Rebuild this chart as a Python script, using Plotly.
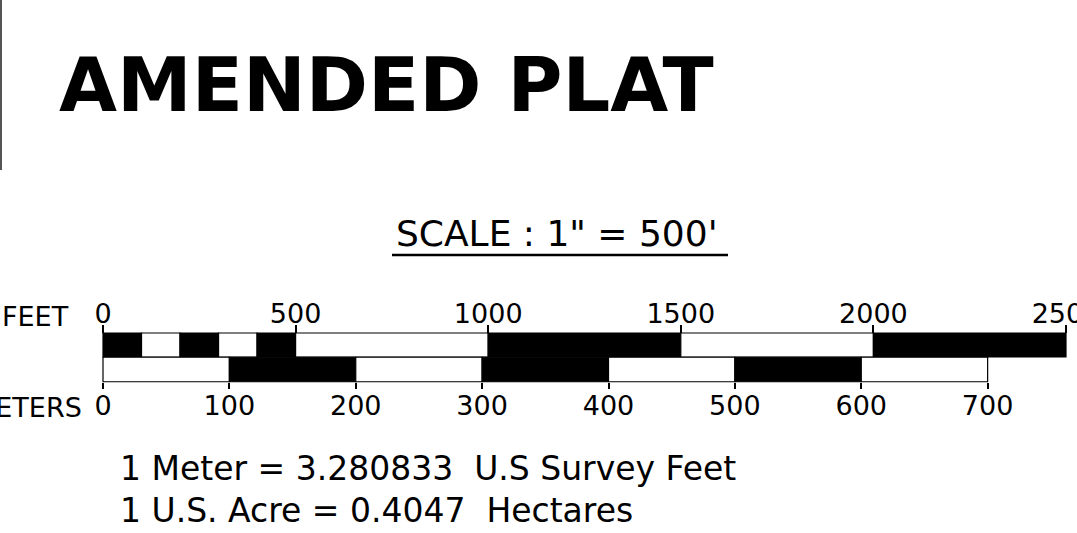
import plotly.graph_objects as go

# ---- data ----
FT_PER_M = 3.280833
feet_edges = [0, 100, 200, 300, 400, 500, 1000, 1500, 2000, 2500]
meter_edges = [0, 100, 200, 300, 400, 500, 600, 700]
feet_ticks = [0, 500, 1000, 1500, 2000, 2500]
meter_ticks = [0, 100, 200, 300, 400, 500, 600, 700]
title_text = "AMENDED PLAT"
scale_text = "SCALE : 1\" = 500'"
note_lines = ["1 Meter = 3.280833  U.S Survey Feet", "1 U.S. Acre = 0.4047  Hectares"]

W, H = 1077, 533
FONT = "DejaVu Sans"

# pixel calibration of the scale (layout)
x0_px = 103.0
px_per_ft = 963.0 / 2500.0
ft_range = [-x0_px / px_per_ft, (W - x0_px) / px_per_ft]
m_range = [v / FT_PER_M for v in ft_range]


def seg(edges, first_black):
    starts = edges[:-1]
    lens = [b - a for a, b in zip(edges[:-1], edges[1:])]
    cols = []
    for i in range(len(starts)):
        black = (i % 2 == 0) == first_black
        cols.append("black" if black else "white")
    return starts, lens, cols


fs, fl, fc = seg(feet_edges, True)
ms, ml, mc = seg(meter_edges, False)

fig = go.Figure()
fig.add_trace(go.Bar(
    orientation="h", base=fs, x=fl, y=[345] * len(fs), width=24,
    marker=dict(color=fc, line=dict(color="black", width=1.2)),
    xaxis="x", yaxis="y", showlegend=False, hoverinfo="skip",
))
fig.add_trace(go.Bar(
    orientation="h", base=ms, x=ml, y=[369.5] * len(ms), width=24.5,
    marker=dict(color=mc, line=dict(color="black", width=1.2)),
    xaxis="x2", yaxis="y", showlegend=False, hoverinfo="skip",
))


def py(p):
    return 1 - p / H


def px(p):
    return p / W


fig.update_layout(
    width=W, height=H,
    margin=dict(l=0, r=0, t=0, b=0, autoexpand=False),
    paper_bgcolor="white", plot_bgcolor="white",
    barmode="overlay",
    font=dict(family=FONT, color="black"),
    xaxis=dict(
        range=ft_range, anchor="free", position=py(333), side="top",
        tickmode="array", tickvals=feet_ticks,
        ticktext=[str(v) for v in feet_ticks],
        ticks="outside", ticklen=8, tickwidth=2, tickcolor="black",
        ticklabelstandoff=-9, ticklabeloverflow="allow", automargin=False,
        showline=False, showgrid=False, zeroline=False,
        tickfont=dict(family=FONT, size=27, color="black"),
        fixedrange=True,
    ),
    xaxis2=dict(
        range=m_range, overlaying="x", anchor="free", position=py(382), side="bottom",
        tickmode="array", tickvals=meter_ticks,
        ticktext=[str(v) for v in meter_ticks],
        ticks="outside", ticklen=6, tickwidth=2, tickcolor="black",
        ticklabelstandoff=-6, ticklabeloverflow="allow", automargin=False,
        showline=False, showgrid=False, zeroline=False,
        tickfont=dict(family=FONT, size=27, color="black"),
        fixedrange=True,
    ),
    yaxis=dict(range=[H, 0], visible=False, fixedrange=True, automargin=False),
)

ann = [
    dict(text="<b>" + title_text + "</b>", x=px(57), y=py(85), size=75, xanchor="left"),
    dict(text=scale_text, x=px(394), y=py(234), size=36, xanchor="left"),
    dict(text="FEET", x=px(0), y=py(316), size=27, xanchor="left"),
    dict(text="METERS", x=px(84), y=py(407), size=27, xanchor="right"),
    dict(text=note_lines[0], x=px(118), y=py(468), size=33, xanchor="left"),
    dict(text=note_lines[1], x=px(118), y=py(510), size=33, xanchor="left"),
]
for a in ann:
    fig.add_annotation(
        text=a["text"], xref="paper", yref="paper", x=a["x"], y=a["y"],
        xanchor=a["xanchor"], yanchor="middle", showarrow=False,
        font=dict(family=FONT, size=a["size"], color="black"),
    )

# underline of scale text and scan edge
fig.add_shape(type="line", xref="paper", yref="paper",
              x0=px(392), x1=px(728), y0=py(255), y1=py(255),
              line=dict(color="black", width=2.5))
fig.add_shape(type="line", xref="paper", yref="paper",
              x0=px(1), x1=px(1), y0=py(0), y1=py(170),
              line=dict(color="#555555", width=2))

fig.write_html("out.html", config={"displayModeBar": False},
               post_script="document.body.style.margin='0px';")
